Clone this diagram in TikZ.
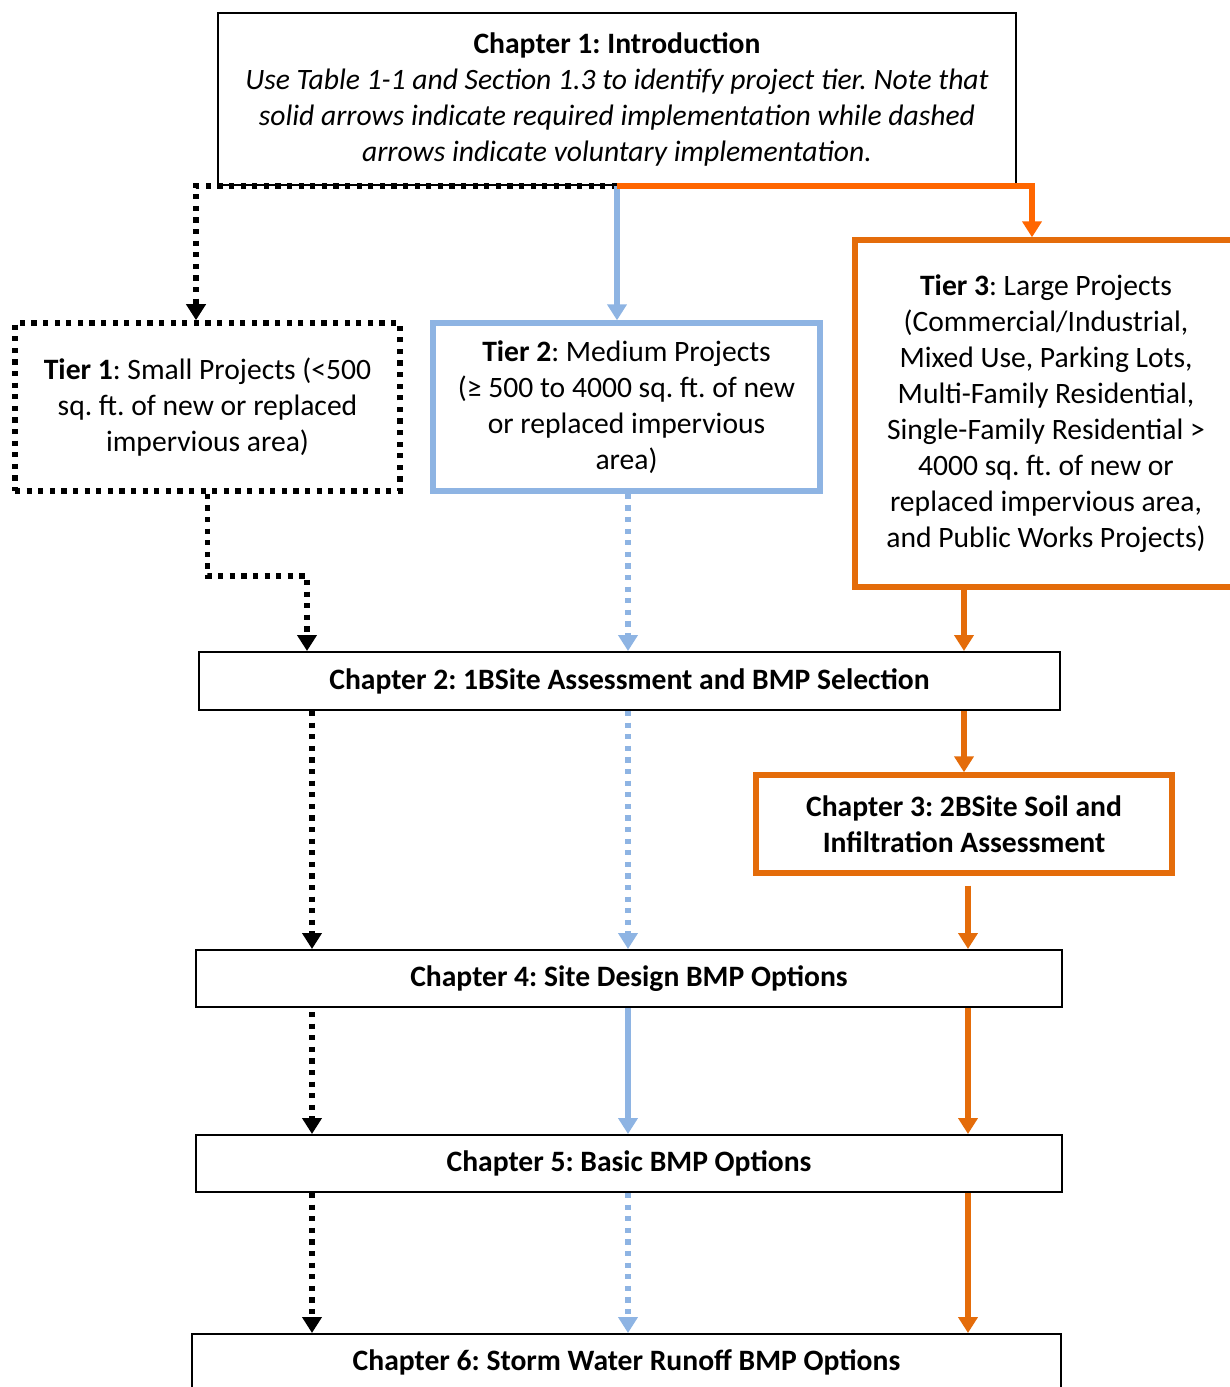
\documentclass[tikz,border=0pt]{standalone}
\usepackage{fontspec}
\setmainfont{Carlito}
\usetikzlibrary{arrows.meta}

\definecolor{tierblue}{HTML}{8EB4E3}
\definecolor{tierorange}{HTML}{E46C0A}
\definecolor{toporange}{HTML}{FF6600}

\tikzset{
  every node/.style={font=\fontsize{14.8}{18}\selectfont\frenchspacing, align=center, inner sep=0pt},
  plainbox/.style={draw, line width=1pt},
  dotbox/.style={draw, line width=2.8pt, dash pattern=on 2.6pt off 3.2pt},
  bluebox/.style={draw=tierblue, line width=2.7pt},
  orangebox/.style={draw=tierorange, line width=2.7pt},
  tip/.style={-{Triangle[length=8pt,width=9.5pt]}},
  kline/.style={tip, line width=2.8pt, dash pattern=on 2.6pt off 3.2pt},
  bline/.style={tip, tierblue, line width=2.8pt},
  bdots/.style={tip, tierblue, line width=2.8pt, dash pattern=on 2.6pt off 3.2pt},
  oline/.style={tip, tierorange, line width=2.6pt}
}

\begin{document}
\begin{tikzpicture}[x=0.5pt, y=-0.5pt]
  \useasboundingbox (0,0) rectangle (1230,1387);
  \clip (0,0) rectangle (1230,1387);

  % boxes
  \node[plainbox, minimum width=399pt, minimum height=86pt] (intro) at (617,99)
    {\textbf{Chapter 1: Introduction}\\
     \textit{Use Table 1-1 and Section 1.3 to identify project tier. Note that}\\
     \textit{solid arrows indicate required implementation while dashed}\\
     \textit{arrows indicate voluntary implementation.}};
  \node[dotbox, minimum width=192.5pt, minimum height=84pt] (tier1) at (207.5,407)
    {\textbf{Tier 1}: Small Projects (<500\\ sq. ft. of new or replaced\\ impervious area)};
  \node[bluebox, minimum width=193.5pt, minimum height=84pt] (tier2) at (626.5,407)
    {\textbf{Tier 2}: Medium Projects\\ (≥ 500 to 4000 sq. ft. of new\\ or replaced impervious\\ area)};
  \node[orangebox, minimum width=191pt, minimum height=173.5pt] (tier3) at (1046,413.5)
    {\textbf{Tier 3}: Large Projects\\ (Commercial/Industrial,\\ Mixed Use, Parking Lots,\\
     Multi-Family Residential,\\ Single-Family Residential >\\ 4000 sq. ft. of new or\\
     replaced impervious area,\\ and Public Works Projects)};
  \node[plainbox, minimum width=430.5pt, minimum height=29pt] (ch2) at (629.5,681)
    {\textbf{Chapter 2: 1BSite Assessment and BMP Selection}};
  \node[orangebox, minimum width=208pt, minimum height=49pt] (ch3) at (964,824)
    {\textbf{Chapter 3: 2BSite Soil and}\\ \textbf{Infiltration Assessment}};
  \node[plainbox, minimum width=433pt, minimum height=28.5pt] (ch4) at (629,978.5)
    {\textbf{Chapter 4: Site Design BMP Options}};
  \node[plainbox, minimum width=433pt, minimum height=28.5pt] (ch5) at (629,1163.5)
    {\textbf{Chapter 5: Basic BMP Options}};
  \node[plainbox, minimum width=434.5pt, minimum height=28.5pt] (ch6) at (626.5,1362.5)
    {\textbf{Chapter 6: Storm Water Runoff BMP Options}};

  % lanes
  \coordinate (k0) at (196,0);
  \coordinate (k1) at (307,576);
  \coordinate (kl) at (312,0);
  \coordinate (bl) at (628,0);
  \coordinate (o0) at (1032,0);
  \coordinate (ol) at (968,0);

  % from the introduction
  \draw[kline] (intro.south) -| (tier1.north -| k0);
  \draw[bline] (intro.south) -- (intro.south |- tier2.north);
  \draw[oline, toporange] (intro.south) -| (tier3.north -| o0);

  % tiers to chapter 2
  \draw[kline] (tier1.south) |- (k1) -- (ch2.north -| k1);
  \draw[bdots] (tier2.south -| bl) -- (ch2.north -| bl);
  \draw[oline] (ch3.north |- tier3.south) -- (ch3.north |- ch2.north);

  % chapter 2 onwards
  \draw[kline] (ch2.south -| kl) -- (ch4.north -| kl);
  \draw[bdots] (ch2.south -| bl) -- (ch4.north -| bl);
  \draw[oline] (ch3.north |- ch2.south) -- (ch3.north);
  \draw[oline, shorten <=5pt] (ch3.south -| ol) -- (ch4.north -| ol);

  \draw[kline, shorten <=2pt] (ch4.south -| kl) -- (ch5.north -| kl);
  \draw[bline] (ch4.south -| bl) -- (ch5.north -| bl);
  \draw[oline] (ch4.south -| ol) -- (ch5.north -| ol);

  \draw[kline] (ch5.south -| kl) -- (ch6.north -| kl);
  \draw[bdots] (ch5.south -| bl) -- (ch6.north -| bl);
  \draw[oline] (ch5.south -| ol) -- (ch6.north -| ol);
\end{tikzpicture}
\end{document}
